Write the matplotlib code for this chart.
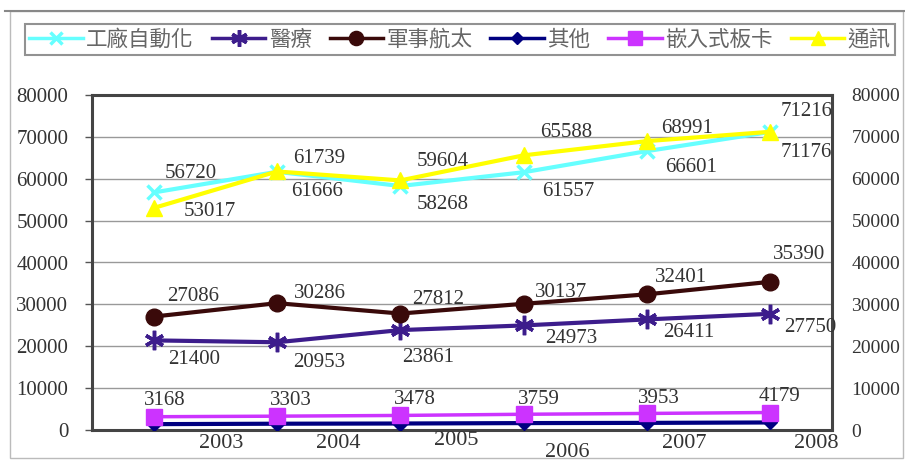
import matplotlib
matplotlib.use("Agg")
import matplotlib.pyplot as plt
from matplotlib.lines import Line2D
from matplotlib.patches import Rectangle

years = ["2003", "2004", "2005", "2006", "2007", "2008"]
factory = [56720, 61666, 58268, 61557, 66601, 71176]
medical = [21400, 20953, 23861, 24973, 26411, 27750]
military = [27086, 30286, 27812, 30137, 32401, 35390]
other = [1400, 1500, 1550, 1650, 1700, 1800]
embedded = [3168, 3303, 3478, 3759, 3953, 4179]
telecom = [53017, 61739, 59604, 65588, 68991, 71216]

names = ["工廠自動化", "醫療", "軍事航太", "其他", "嵌入式板卡", "通訊"]
yticks = [0, 10000, 20000, 30000, 40000, 50000, 60000, 70000, 80000]

NUM_FONT = "Liberation Serif"
CJK_FONT = ["Noto Sans CJK TC", "DejaVu Sans"]
TXT = "#333333"
NSIZE = 15

fig = plt.figure(figsize=(9.05, 4.61), dpi=100)
fig.patches.append(Rectangle((10/905, 1-458/461), 893/905, 447/461, transform=fig.transFigure,
                             fill=False, edgecolor="#bbbbbb", lw=1.0))
fig.add_artist(Line2D([5/905, 1], [1-11/461, 1-11/461], transform=fig.transFigure, color="#888888", lw=1.5))
ax = fig.add_axes([92/905, 1-430/461, 740/905, 335/461])

x = [i + 0.5 for i in range(len(years))]

series = [
    (factory, "#66ffff", "x", 10, 3, dict(mew=2.5)),
    (medical, "#3d1d8c", (6, 2, 0), 14, 3, dict(mew=2.5)),
    (military, "#3a0a0a", "o", 12, 3, dict()),
    (other, "#000080", "D", 7, 3, dict()),
    (embedded, "#cc33ff", "s", 12, 2.5, dict()),
    (telecom, "#ffff00", "^", 12, 3, dict()),
]
handles = []
for (vals, col, mk, ms, lw, kw), nm in zip(series, names):
    ax.plot(x, vals, color=col, lw=lw, marker=mk, ms=ms, mec=col, mfc=col, zorder=3, **kw)
    handles.append(Line2D([], [], color=col, lw=2.5, marker=mk, ms=ms*0.85, mec=col, mfc=col, **kw))

ax.set_xlim(0, 6)
ax.set_ylim(0, 80000)
ax.set_yticks(yticks)
ax.set_yticklabels([str(v) for v in yticks], fontfamily=NUM_FONT, fontsize=NSIZE, color=TXT)
ax.set_xticks([])
ax.tick_params(axis="y", length=5, width=1, color="#555555", pad=12)
ax.grid(axis="y", color="#999999", lw=1)
ax.set_axisbelow(True)
for s in ax.spines.values():
    s.set_color("#444444")
    s.set_linewidth(2.2)

ax2 = ax.twinx()
ax2.set_ylim(0, 80000)
ax2.set_yticks(yticks)
ax2.set_yticklabels([str(v) for v in yticks], fontfamily=NUM_FONT, fontsize=14, color=TXT)
ax2.tick_params(axis="y", length=0, pad=14)
for s in ax2.spines.values():
    s.set_visible(False)

# x labels (staggered as in original)
xlab_pos = [1.05, 2.0, 2.95, 3.85, 4.8, 5.87]
xlab_dy = [13, 13, 10, 22, 13, 13]
for yr, xp, dy in zip(years, xlab_pos, xlab_dy):
    ax.annotate(yr, xy=(xp, 0), xycoords=("data", "data"), xytext=(0, -dy), textcoords="offset pixels",
                ha="center", va="center", fontfamily=NUM_FONT, fontsize=16, color=TXT, annotation_clip=False)

def lab(vals, offs):
    for xi, v, (dx, dy) in zip(x, vals, offs):
        ax.annotate(str(v), xy=(xi, v), xytext=(dx, dy), textcoords="offset pixels",
                    ha="center", va="center", fontfamily=NUM_FONT, fontsize=NSIZE, color=TXT,
                    annotation_clip=False, zorder=5)

lab(factory, [(37, 19), (40, -20), (42, -18), (45, -19), (44, -16), (36, -21)])
lab(telecom, [(56, -4), (42, 13), (42, 19), (43, 23), (40, 13), (36, 20)])
lab(military, [(39, 20), (43, 10), (38, 14), (37, 11), (34, 17), (29, 27)])
lab(medical, [(40, -19), (42, -20), (28, -27), (48, -13), (42, -13), (40, -14)])
lab(embedded, [(11, 16), (14, 16), (15, 16), (15, 15), (12, 15), (9, 16)])

leg = fig.legend(handles, names, loc="lower left", ncol=6, mode="expand",
                 bbox_to_anchor=(25/905, 1-55/461, 870/905, 37/461), frameon=True,
                 prop={"family": CJK_FONT, "size": 15.5}, handlelength=2.5, handletextpad=0.15,
                 borderaxespad=0, fancybox=False, borderpad=0.2, columnspacing=0.5)
leg.get_frame().set_edgecolor("#777777")
leg.get_frame().set_linewidth(1.5)
for t in leg.get_texts():
    t.set_color("#666666")

fig.savefig("out.png", dpi=100)
